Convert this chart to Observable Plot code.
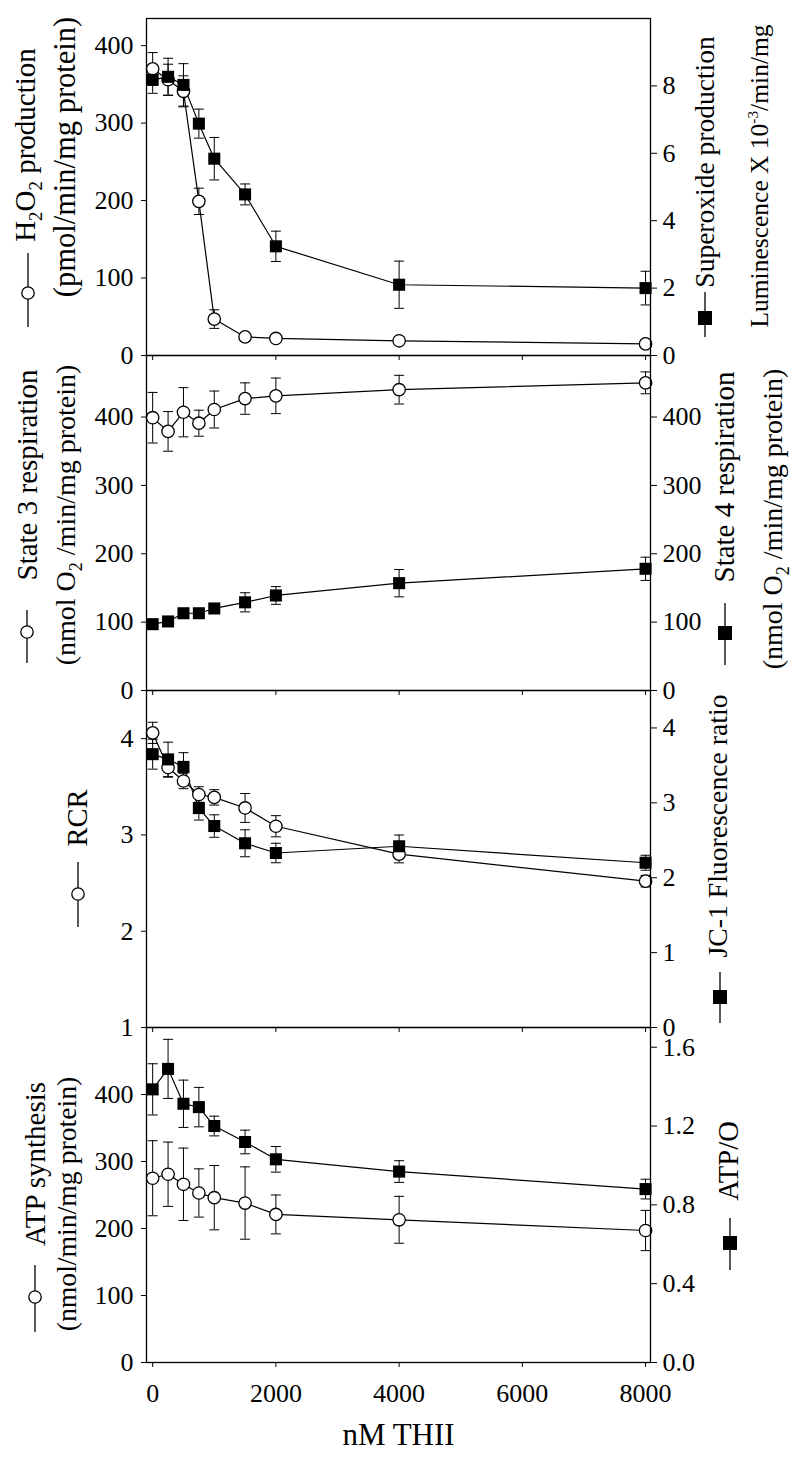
<!DOCTYPE html>
<html><head><meta charset="utf-8">
<script src="https://cdn.jsdelivr.net/npm/d3@7"></script>
<script src="https://cdn.jsdelivr.net/npm/@observablehq/plot@0.6"></script>
<style>
body{margin:0;background:#fff;}
#chart{position:relative;width:800px;height:1462px;}
#chart svg{position:absolute;left:0;top:0;}
</style></head><body><div id="chart"></div>
<script>
// ---- data ----
const thii = [0, 250, 500, 750, 1000, 1500, 2000, 4000, 8000];
const h2o2 = [370, 356, 341, 199, 47, 24, 22, 19, 15];
const h2o2Err = [21, 20, 20, 17, 12, 0, 0, 0, 0];
const superoxide = [8.18, 8.27, 8.03, 6.88, 5.84, 4.78, 3.24, 2.10, 2.00];
const superoxideErr = [0.40, 0.55, 0.63, 0.43, 0.63, 0.31, 0.45, 0.70, 0.50];
const state3 = [399, 379, 407, 391, 411, 427, 431, 440, 450];
const state3Err = [37, 29, 36, 19, 27, 23, 26, 21, 16];
const state4 = [97, 101, 113, 113, 120, 129, 139, 157, 178];
const state4Err = [3, 5, 5, 5, 5, 14, 13, 20, 17];
const rcr = [4.06, 3.70, 3.56, 3.42, 3.39, 3.28, 3.09, 2.80, 2.52];
const rcrErr = [0.11, 0.10, 0.08, 0.08, 0.08, 0.15, 0.11, 0.09, 0.06];
const jc1 = [3.65, 3.58, 3.48, 2.93, 2.69, 2.46, 2.33, 2.42, 2.20];
const jc1Err = [0.20, 0.23, 0.19, 0.16, 0.15, 0.18, 0.13, 0.15, 0.10];
const atpSynth = [275, 281, 266, 253, 246, 238, 221, 213, 197];
const atpSynthErr = [56, 48, 54, 36, 48, 54, 29, 35, 30];
const atpO = [1.386, 1.49, 1.313, 1.296, 1.20, 1.119, 1.031, 0.969, 0.88];
const atpOErr = [0.13, 0.15, 0.12, 0.10, 0.05, 0.06, 0.065, 0.055, 0.05];

const xTicks = [0, 2000, 4000, 6000, 8000];
const leftTicks1 = [0, 100, 200, 300, 400];
const rightTicks1 = [0, 2, 4, 6, 8];
const leftTicks2 = [0, 100, 200, 300, 400];
const rightTicks2 = [0, 100, 200, 300, 400];
const leftTicks3 = [1, 2, 3, 4];
const rightTicks3 = [0, 1, 2, 3, 4];
const leftTicks4 = [0, 100, 200, 300, 400];
const rightTicks4 = [0, 0.4, 0.8, 1.2, 1.6];
const xLabel = "nM THII";

// ---- layout ----
const W = 800, H = 1462, ML = 146, MR = 150;
const FONT = "Liberation Serif";
const panels = [
  {top: 18, bottom: 355, left: [0, 435], right: [0, 10], lt: leftTicks1, rt: rightTicks1, rfmt: d3.format("d"),
   open: h2o2, openErr: h2o2Err, fill: superoxide, fillErr: superoxideErr,
   titles: [
     {x: 35, y: 145, size: 29, parts: ["H", {sub: "2"}, "O", {sub: "2"}, " production"]},
     {x: 75, y: 157, size: 30.5, parts: ["(pmol/min/mg protein)"]},
     {x: 714, y: 162, size: 27.5, parts: ["Superoxide production"]},
     {x: 768, y: 176, size: 25.5, parts: ["Luminescence X 10", {sup: "-3"}, "/min/mg"]}
   ],
   legends: [{x: 28, y1: 253, y2: 327, cy: 293, kind: "circle"}, {x: 705, y1: 292, y2: 337, cy: 318, kind: "square"}]},
  {top: 355, bottom: 690, left: [0, 490], right: [0, 490], lt: leftTicks2, rt: rightTicks2, rfmt: d3.format("d"),
   open: state3, openErr: state3Err, fill: state4, fillErr: state4Err,
   titles: [
     {x: 37, y: 475, size: 29, parts: ["State 3 respiration"]},
     {x: 74.5, y: 515, size: 28, parts: ["(nmol O", {sub: "2"}, " /min/mg protein)"]},
     {x: 734, y: 477, size: 29, parts: ["State 4 respiration"]},
     {x: 782, y: 519, size: 28, parts: ["(nmol O", {sub: "2"}, " /min/mg protein)"]}
   ],
   legends: [{x: 27, y1: 610, y2: 663, cy: 632, kind: "circle"}, {x: 725, y1: 603, y2: 665, cy: 633, kind: "square"}]},
  {top: 690, bottom: 1027, left: [1, 4.5], right: [0, 4.5], lt: leftTicks3, rt: rightTicks3, rfmt: d3.format("d"),
   open: rcr, openErr: rcrErr, fill: jc1, fillErr: jc1Err,
   titles: [
     {x: 87, y: 818, size: 28.5, parts: ["RCR"]},
     {x: 727, y: 826, size: 27.7, parts: ["JC-1 Fluorescence ratio"]}
   ],
   legends: [{x: 78, y1: 862, y2: 927, cy: 894, kind: "circle"}, {x: 720, y1: 972, y2: 1023, cy: 997, kind: "square"}]},
  {top: 1027, bottom: 1362, left: [0, 500], right: [0, 1.7], lt: leftTicks4, rt: rightTicks4, rfmt: d3.format(".1f"),
   open: atpSynth, openErr: atpSynthErr, fill: atpO, fillErr: atpOErr, last: true,
   titles: [
     {x: 44.5, y: 1164, size: 29, parts: ["ATP synthesis"]},
     {x: 76, y: 1204, size: 27.7, parts: ["(nmol/min/mg protein)"]},
     {x: 737.5, y: 1161, size: 28.7, parts: ["ATP/O"]}
   ],
   legends: [{x: 35, y1: 1265, y2: 1332, cy: 1297, kind: "circle"}, {x: 730, y1: 1218, y2: 1270, cy: 1243, kind: "square"}]}
];

const capSymbol = {draw(ctx) { ctx.moveTo(-5, 0); ctx.lineTo(5, 0); }};

function seriesMarks(rows) {
  const withErr = rows.filter(d => d.err > 0);
  return [
    Plot.ruleX(withErr, {x: "x", y1: "lo", y2: "hi", stroke: "black", strokeWidth: 1}),
    Plot.dot(withErr, {x: "x", y: "hi", symbol: capSymbol, stroke: "black", strokeWidth: 1}),
    Plot.dot(withErr, {x: "x", y: "lo", symbol: capSymbol, stroke: "black", strokeWidth: 1}),
    Plot.line(rows, {x: "x", y: "y", stroke: "black", strokeWidth: 1.2})
  ];
}
function markerMarks(rows, kind) {
  return kind === "circle"
    ? Plot.dot(rows, {x: "x", y: "y", r: 6.2, fill: "white", stroke: "black", strokeWidth: 1.3})
    : Plot.dot(rows, {x: "x", y: "y", r: 6.8, symbol: "square", fill: "black", stroke: "none"});
}

function addTitle(svg, t) {
  const text = d3.select(svg).append("text")
    .attr("transform", `translate(${t.x},${t.y}) rotate(-90)`)
    .attr("text-anchor", "middle")
    .attr("font-family", FONT)
    .attr("font-size", t.size)
    .attr("fill", "black");
  let shift = 0;
  for (const p of t.parts) {
    if (typeof p === "string") {
      text.append("tspan").attr("dy", -shift).text(p);
      shift = 0;
    } else if (p.sub) {
      const s = t.size * 0.25;
      text.append("tspan").attr("dy", s - shift).attr("font-size", t.size * 0.65).text(p.sub);
      shift = s;
    } else if (p.sup) {
      const s = -t.size * 0.4;
      text.append("tspan").attr("dy", s - shift).attr("font-size", t.size * 0.6).text(p.sup);
      shift = s;
    }
  }
}
function addLegend(svg, l) {
  const g = d3.select(svg).append("g").attr("stroke", "black");
  g.append("line").attr("x1", l.x).attr("x2", l.x).attr("y1", l.y1).attr("y2", l.y2).attr("stroke-width", 1.3);
  if (l.kind === "circle") g.append("circle").attr("cx", l.x).attr("cy", l.cy).attr("r", 6.2).attr("fill", "white").attr("stroke-width", 1.3);
  else g.append("rect").attr("x", l.x - 6.5).attr("y", l.cy - 6.5).attr("width", 13).attr("height", 13).attr("fill", "black");
}

const chart = document.getElementById("chart");
for (const p of panels) {
  const [l0, l1] = p.left, [r0, r1] = p.right;
  const toLeft = v => l0 + (v - r0) * (l1 - l0) / (r1 - r0);
  const toRight = v => r0 + (v - l0) * (r1 - r0) / (l1 - l0);
  const openRows = thii.map((x, i) => ({x, y: p.open[i], err: p.openErr[i], lo: p.open[i] - p.openErr[i], hi: p.open[i] + p.openErr[i]}));
  const fillRows = thii.map((x, i) => ({x, y: toLeft(p.fill[i]), err: p.fillErr[i], lo: toLeft(p.fill[i] - p.fillErr[i]), hi: toLeft(p.fill[i] + p.fillErr[i])}));
  const svg = Plot.plot({
    width: W, height: H,
    marginTop: p.top, marginBottom: H - p.bottom, marginLeft: ML, marginRight: MR,
    x: {domain: [-100, 8080]},
    y: {domain: p.left},
    style: {background: "transparent", overflow: "visible", fontFamily: FONT, fontSize: "26px", color: "black"},
    marks: [
      Plot.axisY(p.lt, {anchor: "left", tickSize: 5, tickPadding: 8, label: null, tickFormat: d => String(d)}),
      Plot.axisY(p.rt.map(toLeft), {anchor: "right", tickSize: 6, tickPadding: 6, label: null, tickFormat: d => p.rfmt(toRight(d))}),
      Plot.axisX(xTicks, {anchor: "bottom", tickSize: 5, tickPadding: 16, label: null,
        tickFormat: p.last ? (d => String(d)) : (() => "")}),
      ...seriesMarks(openRows),
      ...seriesMarks(fillRows),
      markerMarks(openRows, "circle"),
      markerMarks(fillRows, "square"),
      Plot.frame({stroke: "black", strokeWidth: 1.3}),
      ...(p.last ? [Plot.text([xLabel], {frameAnchor: "bottom", dy: 82, fontSize: 31, fill: "black"})] : [])
    ]
  });
  for (const t of p.titles) addTitle(svg, t);
  for (const l of p.legends) addLegend(svg, l);
  chart.appendChild(svg);
}
</script></body></html>
